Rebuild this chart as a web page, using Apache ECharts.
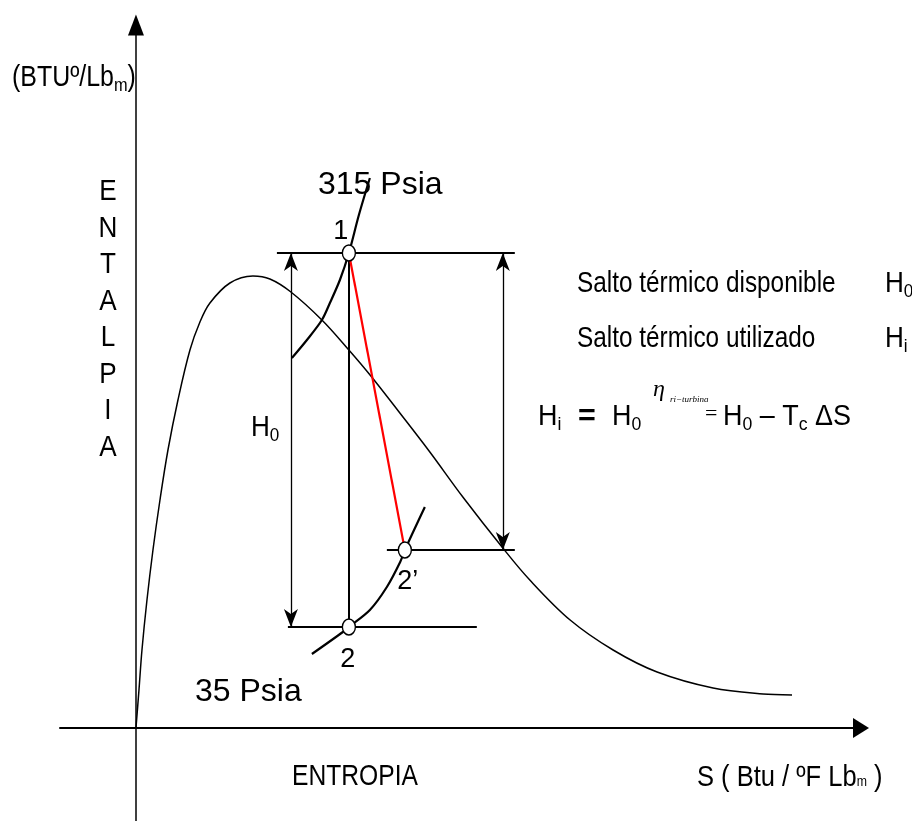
<!DOCTYPE html>
<html>
<head>
<meta charset="utf-8">
<script src="https://cdn.jsdelivr.net/npm/echarts@6/dist/echarts.min.js"></script>
<style>
    html, body { margin: 0; padding: 0; background: #fff; }
    #chart { width: 912px; height: 821px; }
</style>
</head>
<body>
<div id="chart"></div>
<script>
// saturation dome, entropy S vs enthalpy H (arbitrary diagram units)
const domeS = [0, 0.009, 0.018, 0.033, 0.051, 0.072, 0.096, 0.126, 0.162, 0.192, 0.222, 0.282, 0.351,
    0.402, 0.465, 0.558, 0.639, 0.705, 0.792, 0.882, 0.981, 1.101, 1.182, 1.303, 1.432, 1.564, 1.732, 1.882, 1.969];
const domeH = [0, 76, 156, 256, 356, 456, 556, 656, 756, 812, 850, 890, 904,
    898, 872, 816, 756, 704, 630, 552, 462, 360, 296, 216, 156, 112, 80, 68, 66];

// isobars
const iso315S = [0.468, 0.513, 0.558, 0.582, 0.612, 0.639, 0.669, 0.702];
const iso315H = [740, 776, 816, 850, 896, 950, 1026, 1100];
const iso35S = [0.528, 0.621, 0.639, 0.702, 0.753, 0.793, 0.807, 0.867];
const iso35H = [148, 192, 202, 236, 282, 332, 356, 442];

// states 1, 2 (isentropic) and 2' (real)
const stateNames = ['1', '2', '2’'];
const stateS = [0.639, 0.639, 0.807];
const stateH = [950, 202, 356];

// horizontal guide lines at h1, h2, h2'
const guideH = [950, 202, 356];
const guideFrom = [0.423, 0.456, 0.753];
const guideTo = [1.137, 1.023, 1.137];

// dimension arrows H0 and Hi
const dimS = [0.465, 1.101];
const dimTop = [950, 950];
const dimBottom = [202, 356];

const FONT = "'Liberation Sans', Arial, sans-serif";
const SERIF = "'Liberation Serif', 'Times New Roman', serif";
const FS = 29, SUB = 19;

// arrow head with its tip in the middle of the symbol box
const arrowHead = 'path://M0,0L0,0M36,0L36,0M18,18L25,36L18,31L11,36Z';

const pairs = (xs, ys) => xs.map((x, i) => [x, ys[i]]);

const chart = echarts.init(document.getElementById('chart'));

const mainTxt = { fontFamily: FONT, fontSize: FS, color: '#000' };
const subTxt = { fontFamily: FONT, fontSize: SUB, color: '#000', padding: [16, 0, 0, 0] };

function txt(x, y, text, sx, extra) {
    return {
        type: 'text', x: x, y: y, z: 20, scaleX: sx || 1,
        style: Object.assign({
            text: text, fontFamily: FONT, fontSize: FS, fill: '#000',
            align: 'left', verticalAlign: 'middle',
            rich: { a: mainTxt, s: subTxt }
        }, extra || {})
    };
}

const option = {
    animation: false,
    backgroundColor: '#fff',
    grid: { left: 60, right: 51, top: 25, bottom: 0 },
    xAxis: {
        type: 'value', min: -0.228, max: 2.176,
        axisLine: { onZero: true, symbol: ['none', 'triangle'], symbolSize: [20, 16], lineStyle: { color: '#000', width: 2 } },
        axisTick: { show: false }, axisLabel: { show: false }, splitLine: { show: false }
    },
    yAxis: {
        type: 'value', min: -186, max: 1406,
        axisLine: { onZero: true, symbol: ['none', 'triangle'], symbolSize: [16, 21], lineStyle: { color: '#000', width: 1.5 } },
        axisTick: { show: false }, axisLabel: { show: false }, splitLine: { show: false }
    },
    series: [
        {
            type: 'line', name: 'dome', data: pairs(domeS, domeH), smooth: 0.35, showSymbol: false,
            lineStyle: { color: '#000', width: 1.5 }, z: 2
        },
        {
            type: 'line', name: '315 Psia', data: pairs(iso315S, iso315H), smooth: 0.3, showSymbol: false,
            lineStyle: { color: '#000', width: 2.2 }, z: 3
        },
        {
            type: 'line', name: '35 Psia', data: pairs(iso35S, iso35H), smooth: 0.3, showSymbol: false,
            lineStyle: { color: '#000', width: 2.2 }, z: 3
        },
        {
            type: 'lines', coordinateSystem: 'cartesian2d', z: 3,
            lineStyle: { color: '#000', width: 2, opacity: 1 },
            data: guideH.map((h, i) => ({ coords: [[guideFrom[i], h], [guideTo[i], h]] }))
                .concat([{ coords: [[stateS[0], stateH[0]], [stateS[1], stateH[1]]] }])
        },
        {
            type: 'lines', coordinateSystem: 'cartesian2d', z: 4,
            lineStyle: { color: '#ff0000', width: 2.2, opacity: 1 },
            data: [{ coords: [[stateS[0], stateH[0]], [stateS[2], stateH[2]]] }]
        },
        {
            type: 'lines', coordinateSystem: 'cartesian2d', z: 3,
            symbol: [arrowHead, arrowHead], symbolSize: 36,
            lineStyle: { color: '#000', width: 1.3, opacity: 1 },
            data: dimS.map((s, i) => ({ coords: [[s, dimTop[i]], [s, dimBottom[i]]] }))
        },
        {
            type: 'scatter', z: 6,
            symbol: 'circle', symbolSize: [13, 16],
            itemStyle: { color: '#fff', borderColor: '#000', borderWidth: 1.5, opacity: 1 },
            label: {
                show: true, position: 'inside', color: '#000',
                fontFamily: FONT, fontSize: 27,
                formatter: p => stateNames[p.dataIndex]
            },
            data: [
                { value: [stateS[0], stateH[0]], label: { offset: [-8, -21] } },
                { value: [stateS[1], stateH[1]], label: { offset: [-1, 33] } },
                { value: [stateS[2], stateH[2]], label: { offset: [3, 32] } }
            ]
        }
    ],
    graphic: [
        txt(12, 78, '{a|(BTUº/Lb}{s|m}{a|)}', 0.86),
        txt(108, 320, 'E\nN\nT\nA\nL\nP\nI\nA', 0.9, { align: 'center', lineHeight: 36.5 }),
        txt(318, 185, '315 Psia', 1, { fontSize: 32 }),
        txt(251, 428, '{a|H}{s|0}', 0.9),
        txt(195, 692, '35 Psia', 1, { fontSize: 32 }),
        txt(292, 777, 'ENTROPIA', 0.85),
        txt(697, 778, '{a|S ( Btu / ºF Lb}{t|m}{a| )}', 0.88,
            { rich: { a: mainTxt, t: { fontFamily: FONT, fontSize: 14, color: '#000', padding: [8, 0, 0, 0] } } }),
        txt(577, 284, 'Salto térmico disponible', 0.84),
        txt(885, 284, '{a|H}{s|0}', 0.9),
        txt(577, 339, 'Salto térmico utilizado', 0.84),
        txt(885, 339, '{a|H}{s|i}', 0.9),
        // H_i = H_0 ^ eta_(ri-turbina) = H_0 - T_c dS
        txt(538, 417, '{a|H}{s|i}', 0.93),
        txt(578, 417, '=', 1.05, { fontWeight: 'bold' }),
        txt(612, 417, '{a|H}{s|0}', 0.93),
        txt(653, 390, 'η', 1, { fontFamily: SERIF, fontStyle: 'italic', fontSize: 24 }),
        txt(670, 400, 'ri−turbina', 1, { fontFamily: SERIF, fontStyle: 'italic', fontSize: 9 }),
        txt(705, 414, '=', 1, { fontFamily: SERIF, fontSize: 22 }),
        txt(723, 417, '{a|H}{s|0}{a| – T}{s|c}{a| ΔS}', 0.93)
    ]
};

chart.setOption(option);
</script>
</body>
</html>
